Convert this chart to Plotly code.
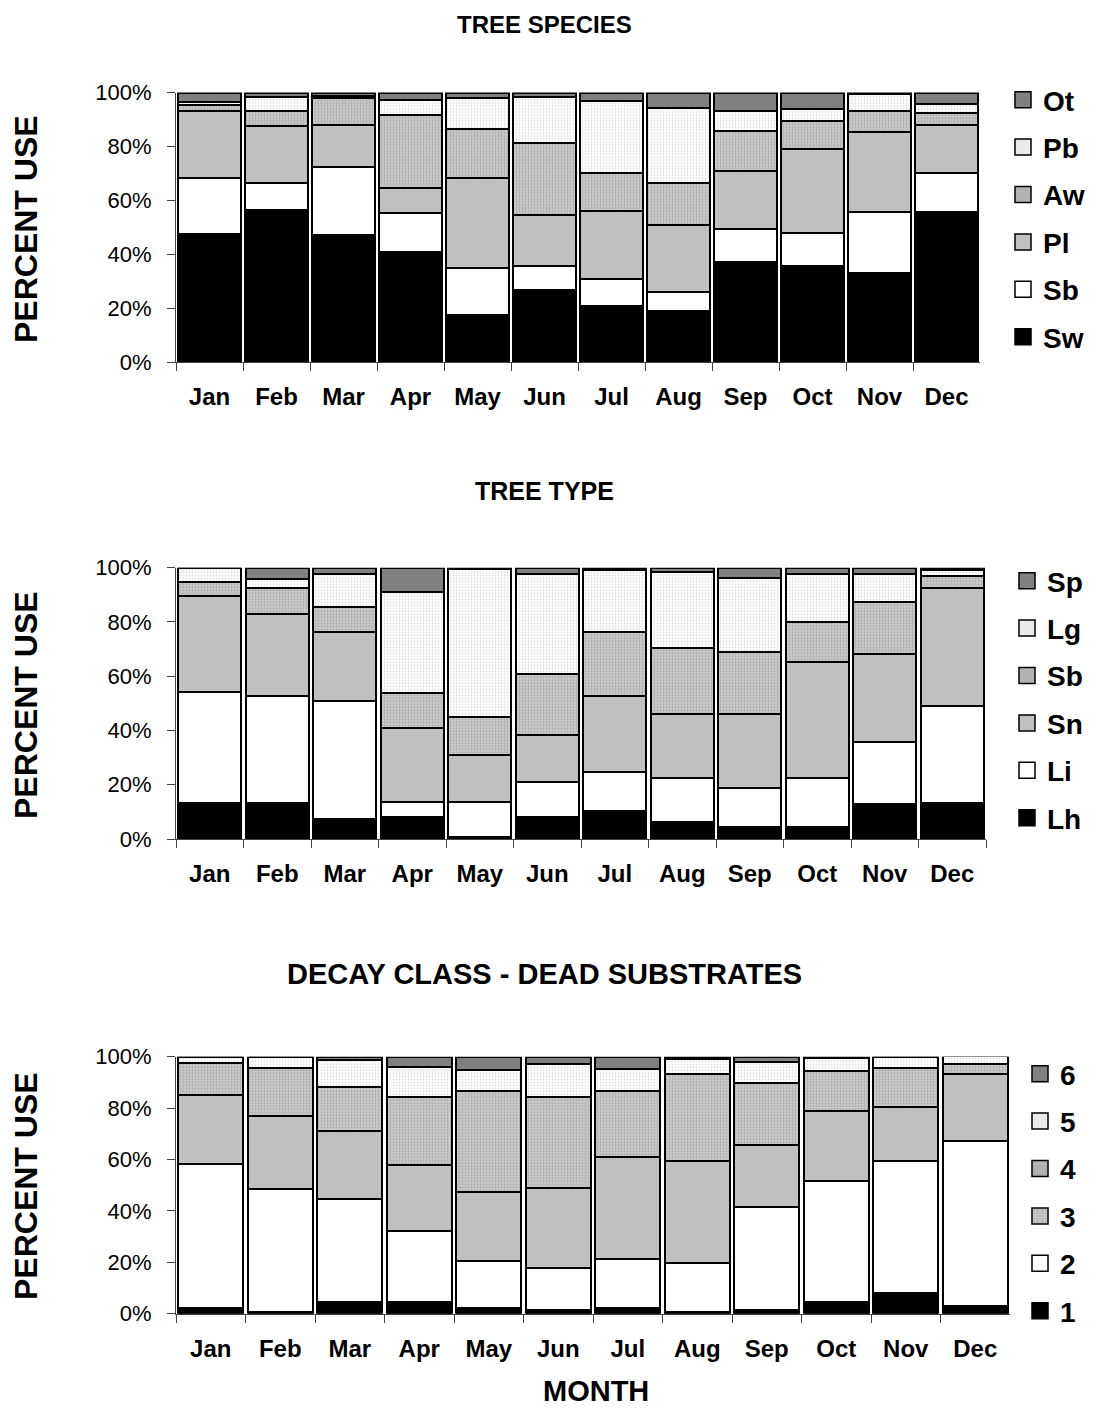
import plotly.graph_objects as go

# ---------------- data ----------------
months = ["Jan", "Feb", "Mar", "Apr", "May", "Jun",
          "Jul", "Aug", "Sep", "Oct", "Nov", "Dec"]

# Panel 1: TREE SPECIES (percent use, stacked bottom -> top)
species_sw = [47.5, 56.4, 47.0, 40.8, 17.3, 26.7, 20.9, 18.8, 37.1, 35.8, 32.9, 55.8]
species_sb = [20.6, 10.1, 25.4, 14.6, 17.5, 8.8, 9.9, 7.1, 12.3, 12.2, 22.7, 14.4]
species_pl = [25.1, 20.9, 15.6, 9.1, 33.3, 19.1, 25.3, 25.0, 21.6, 31.1, 29.7, 17.7]
species_aw = [2.1, 5.8, 9.8, 27.3, 18.5, 26.8, 14.0, 15.6, 14.6, 10.3, 7.9, 4.4]
species_pb = [1.1, 5.3, 0.9, 5.3, 11.2, 17.1, 26.8, 27.6, 7.6, 4.6, 6.2, 3.4]
species_ot = [3.6, 1.5, 1.3, 2.9, 2.2, 1.5, 3.1, 5.9, 6.8, 6.0, 0.6, 4.3]

# Panel 2: TREE TYPE
type_lh = [13.4, 13.4, 7.5, 8.2, 0.9, 8.2, 10.4, 6.1, 4.5, 4.5, 12.8, 13.4]
type_li = [40.9, 39.4, 43.2, 5.6, 12.9, 12.9, 14.4, 16.5, 14.4, 18.1, 23.1, 35.7]
type_sn = [35.3, 30.2, 25.6, 27.2, 17.0, 17.1, 28.0, 23.5, 27.2, 42.8, 32.4, 43.5]
type_sb = [5.2, 9.6, 9.1, 12.7, 14.0, 22.7, 23.6, 24.2, 22.9, 14.7, 19.2, 4.3]
type_lg = [5.2, 3.1, 12.4, 37.3, 54.6, 36.6, 22.6, 28.2, 27.3, 17.7, 10.3, 2.2]
type_sp = [0.0, 4.3, 2.2, 9.0, 0.6, 2.5, 1.0, 1.5, 3.7, 2.2, 2.2, 0.9]

# Panel 3: DECAY CLASS - DEAD SUBSTRATES
decay_1 = [2.3, 0.8, 4.7, 4.7, 2.3, 1.6, 2.3, 0.8, 1.4, 4.7, 7.9, 3.1]
decay_2 = [55.8, 47.7, 40.0, 27.5, 18.3, 16.0, 19.1, 19.0, 40.1, 47.1, 51.5, 64.1]
decay_3 = [27.0, 28.3, 26.4, 25.8, 26.6, 31.2, 39.4, 39.6, 24.1, 27.1, 21.1, 25.9]
decay_4 = [12.6, 18.7, 17.2, 26.4, 39.4, 35.6, 25.8, 33.7, 24.3, 15.5, 15.0, 3.9]
decay_5 = [2.3, 4.5, 10.3, 11.7, 8.1, 12.6, 8.6, 6.0, 8.2, 5.0, 4.5, 3.1]
decay_6 = [0.0, 0.0, 1.4, 3.9, 5.3, 3.0, 4.8, 0.9, 1.9, 0.6, 0.0, 0.0]

species_labels = ["Sw", "Sb", "Pl", "Aw", "Pb", "Ot"]
type_labels = ["Lh", "Li", "Sn", "Sb", "Lg", "Sp"]
decay_labels = ["1", "2", "3", "4", "5", "6"]

y_tick_vals = [0, 20, 40, 60, 80, 100]
y_tick_text = ["0%", "20%", "40%", "60%", "80%", "100%"]

panel_titles = ["TREE SPECIES", "TREE TYPE", "DECAY CLASS - DEAD SUBSTRATES"]

# ---------------- styling ----------------
FONT = "Liberation Sans, Arial, Helvetica, sans-serif"
W, H = 1096, 1410
OFF = 8  # page body margin

# fill style per stacking level (bottom -> top)
styles = [
    dict(color="#000000"),
    dict(color="#ffffff"),
    dict(color="#c0c0c0"),
    dict(color="#cfcfcf", pattern=dict(shape=".", fgcolor="#7a7a7a", size=3,
                                       solidity=0.4, fillmode="overlay")),
    dict(color="#ffffff", pattern=dict(shape=".", fgcolor="#a8a8a8", size=3,
                                       solidity=0.25, fillmode="overlay")),
    dict(color="#808080"),
]
legend_colors = ["#000000", "#ffffff", "#c0c0c0", "#b2b2b2", "#eaeaea", "#808080"]

def py(p):  # page pixel from top -> paper fraction
    return 1 - (p - OFF) / H

def px(p):
    return (p - OFF) / W

panels = [
    dict(series=[species_sw, species_sb, species_pl, species_aw, species_pb, species_ot],
         labels=species_labels, ytop=92.5, ybot=362, xl=176, xr=980,
         title_y=24, title_size=24, ylab_y=229,
         leg_x=1003, leg_y=75),
    dict(series=[type_lh, type_li, type_sn, type_sb, type_lg, type_sp],
         labels=type_labels, ytop=567.7, ybot=839, xl=176, xr=986,
         title_y=491, title_size=25, ylab_y=705,
         leg_x=1007, leg_y=556),
    dict(series=[decay_1, decay_2, decay_3, decay_4, decay_5, decay_6],
         labels=decay_labels, ytop=1056.7, ybot=1313.7, xl=176, xr=1010,
         title_y=974, title_size=29, ylab_y=1186,
         leg_x=1020, leg_y=1049),
]

fig = go.Figure()
layout = dict(
    width=W, height=H,
    margin=dict(l=0, r=0, t=0, b=0, autoexpand=False),
    paper_bgcolor="white", plot_bgcolor="white",
    barmode="stack", bargap=0.07,
    font=dict(family=FONT, color="black"),
    annotations=[],
)

for i, p in enumerate(panels):
    sfx = "" if i == 0 else str(i + 1)
    xa, ya = "x" + sfx, "y" + sfx
    leg = "legend" + sfx
    for k, (vals, lab) in enumerate(zip(p["series"], p["labels"])):
        st = styles[k]
        marker = dict(color=st["color"], line=dict(color="black", width=2))
        if "pattern" in st:
            marker["pattern"] = st["pattern"]
        fig.add_trace(go.Bar(x=months, y=vals, name=lab, marker=marker,
                             xaxis=xa, yaxis=ya, showlegend=False,
                             hovertemplate="%{x}: %{y:.1f}%<extra>" + lab + "</extra>"))
    # legend entries (top -> bottom)
    for k in range(5, -1, -1):
        fig.add_trace(go.Scatter(x=[None], y=[None], mode="markers",
                                 name=p["labels"][k], legend=leg,
                                 legendgroup=f"g{i}_{k}",
                                 marker=dict(symbol="square", size=16,
                                             color=legend_colors[k],
                                             line=dict(color="black", width=1.5)),
                                 xaxis=xa, yaxis=ya, showlegend=True))
    layout["xaxis" + sfx] = dict(
        domain=[px(p["xl"]), px(p["xr"])], anchor=ya, type="category",
        range=[-0.5, 11.5], showline=True, linecolor="#444", linewidth=1,
        ticks="outside", tickson="boundaries", ticklen=8, tickcolor="#444",
        tickwidth=1, showgrid=False, zeroline=False, automargin=False,
        tickfont=dict(family=FONT, size=24, weight="bold", color="black"),
        ticklabelstandoff=13,
    )
    layout["yaxis" + sfx] = dict(
        domain=[py(p["ybot"]), py(p["ytop"])], anchor=xa,
        range=[0, 100], showline=True, linecolor="#444", linewidth=1,
        ticks="outside", ticklen=8, tickcolor="#444", tickwidth=1,
        tickvals=y_tick_vals, ticktext=y_tick_text,
        showgrid=False, zeroline=False, automargin=False,
        tickfont=dict(family=FONT, size=22, color="black"),
        ticklabelstandoff=11,
    )
    layout[leg] = dict(
        x=px(p["leg_x"]), y=py(p["leg_y"]), xanchor="left", yanchor="top",
        traceorder="grouped", tracegroupgap=8, bgcolor="rgba(0,0,0,0)",
        font=dict(family=FONT, size=28, weight="bold", color="black"),
        itemclick=False, itemdoubleclick=False,
    )
    layout["annotations"].append(dict(
        text=panel_titles[i], x=px(544), y=py(p["title_y"]), xref="paper", yref="paper",
        xanchor="center", yanchor="middle", showarrow=False,
        font=dict(family=FONT, size=p["title_size"], weight="bold", color="black")))
    layout["annotations"].append(dict(
        text="PERCENT USE", x=px(26), y=py(p["ylab_y"]), xref="paper", yref="paper",
        xanchor="center", yanchor="middle", showarrow=False, textangle=-90,
        font=dict(family=FONT, size=32, weight="bold", color="black")))

layout["annotations"].append(dict(
    text="MONTH", x=px(596), y=py(1391), xref="paper", yref="paper",
    xanchor="center", yanchor="middle", showarrow=False,
    font=dict(family=FONT, size=29, weight="bold", color="black")))

fig.update_layout(**layout)
fig.write_html("out.html")
